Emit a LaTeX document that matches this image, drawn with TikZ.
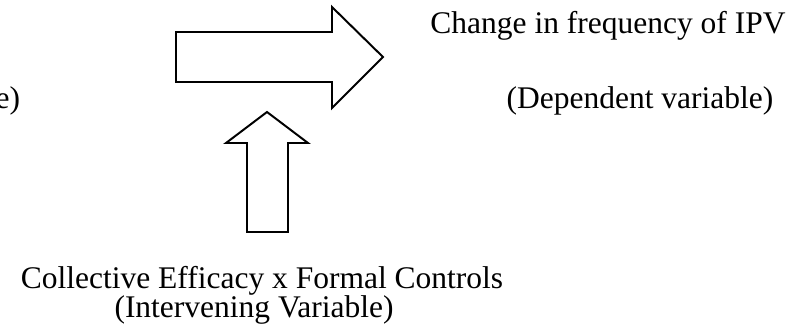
\documentclass[tikz,border=0pt]{standalone}
\usepackage{fontspec}
\setmainfont{Liberation Serif}
\begin{document}
\begin{tikzpicture}[x=0.381pt,y=-0.381pt,line width=0.75pt,
    lbl/.style={inner sep=0pt,anchor=base,font=\fontsize{12}{14}\selectfont}] % ------ block arrows ------
    \useasboundingbox (0,0) rectangle (805,332);
    \draw (176,32)--(332,32)--(332,7)--(383,57)--(332,108)--(332,82)--(176,82)--cycle;
    \draw (247,232)--(247,143)--(226,143)--(267,112)--(308,143)--(288,143)--(288,232)--cycle;
    \node [lbl, anchor=base east] (indep) at (21,108) {e)};
    \node [lbl] (dep) at (608,33) {Change in frequency of IPV};
    \node [lbl] (deplab) at (640,108) {(Dependent variable)};
    \node [lbl] (interv) at (262,288) {Collective Efficacy x Formal Controls};
    \node [lbl] (intervlab) at (254,317) {(Intervening Variable)};
\end{tikzpicture}
\end{document}
